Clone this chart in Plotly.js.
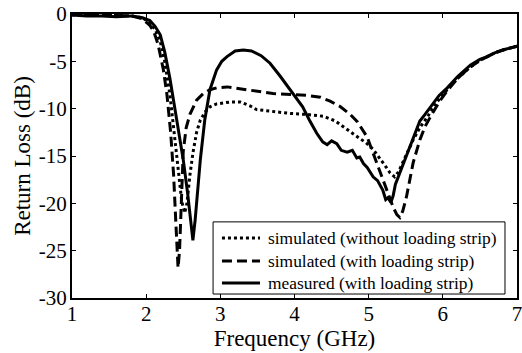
<!DOCTYPE html>
<html>
<head>
<meta charset="utf-8">
<script src="https://cdn.plot.ly/plotly-3.0.1.min.js"></script>
<style>
  html, body { margin: 0; padding: 0; background: #fff; }
  #chart { width: 522px; height: 353px; }
</style>
</head>
<body>
<div id="chart"></div>
<script>
// Frequency (GHz) and return loss (dB)
const freqWithout = [1.0, 1.5, 1.8, 1.95, 2.05, 2.12, 2.19, 2.25, 2.32, 2.38, 2.43, 2.48, 2.52, 2.55, 2.59, 2.63, 2.68, 2.73, 2.8, 2.86, 2.95, 3.04, 3.13, 3.27, 3.4, 3.49, 3.7, 3.94, 4.15, 4.39, 4.55, 4.66, 4.75, 4.85, 4.98, 5.06, 5.15, 5.22, 5.29, 5.35, 5.4, 5.46, 5.53, 5.6, 5.69, 5.79, 5.9, 6.0, 6.1, 6.2, 6.37, 6.5, 6.6, 6.7, 6.81, 6.9, 7.0];
const rlWithout = [-0.1, -0.1, -0.2, -0.4, -0.9, -1.6, -2.9, -5, -8.5, -12.5, -16.5, -19.8, -21, -20, -17, -14.7, -12.5, -11.2, -10.3, -9.8, -9.5, -9.4, -9.3, -9.3, -9.7, -10.1, -10.3, -10.5, -10.6, -10.8, -11.3, -11.9, -12.4, -12.9, -13.7, -14.3, -15.2, -16.0, -16.8, -17.2, -16.7, -15.7, -14.5, -13.3, -12.0, -10.9, -9.5, -8.5, -7.6, -6.8, -5.6, -4.9, -4.5, -4.1, -3.8, -3.6, -3.4];

const freqWith = [1.0, 1.5, 1.8, 1.95, 2.05, 2.1, 2.16, 2.23, 2.28, 2.33, 2.37, 2.4, 2.43, 2.45, 2.47, 2.5, 2.54, 2.59, 2.68, 2.77, 2.86, 2.95, 3.09, 3.27, 3.5, 3.71, 3.95, 4.17, 4.35, 4.48, 4.62, 4.75, 4.85, 4.92, 4.98, 5.06, 5.12, 5.19, 5.26, 5.33, 5.38, 5.42, 5.46, 5.51, 5.56, 5.6, 5.69, 5.76, 5.83, 5.95, 6.06, 6.2, 6.37, 6.5, 6.6, 6.7, 6.81, 6.9, 7.0];
const rlWith = [-0.05, -0.1, -0.2, -0.5, -1.2, -1.8, -3.2, -5.8, -8.5, -12.5, -17, -22, -26.8, -25, -20.5, -14.5, -12, -10.6, -9.1, -8.4, -8.0, -7.8, -7.7, -7.9, -8.2, -8.4, -8.5, -8.6, -8.8, -9.2, -9.8, -10.6, -11.4, -12.3, -13.0, -14.7, -16, -17.6, -19, -20.4, -21.2, -21.5, -20.8, -19.3, -17.3, -15.7, -13.3, -11.9, -10.9, -9.3, -8.1, -6.8, -5.6, -4.9, -4.5, -4.1, -3.8, -3.6, -3.4];

const freqMeasured = [1.0, 1.2, 1.4, 1.6, 1.8, 1.95, 2.05, 2.12, 2.19, 2.25, 2.32, 2.41, 2.5, 2.56, 2.6, 2.63, 2.66, 2.7, 2.73, 2.79, 2.86, 2.95, 3.02, 3.09, 3.2, 3.31, 3.42, 3.55, 3.67, 3.8, 3.94, 4.04, 4.11, 4.2, 4.3, 4.38, 4.44, 4.5, 4.57, 4.63, 4.71, 4.78, 4.84, 4.88, 4.93, 4.98, 5.06, 5.12, 5.19, 5.23, 5.26, 5.3, 5.33, 5.36, 5.42, 5.5, 5.56, 5.63, 5.69, 5.76, 5.83, 5.95, 6.06, 6.2, 6.37, 6.5, 6.6, 6.7, 6.81, 6.9, 7.0];
const rlMeasured = [-0.1, -0.2, -0.2, -0.3, -0.2, -0.4, -0.7, -1.3, -2.2, -4.0, -6.8, -11.0, -15.4, -19, -21.5, -23.9, -21.8, -18, -15.4, -11.2, -8.0, -5.9, -5.0, -4.5, -3.9, -3.8, -3.9, -4.4, -5.2, -6.5, -8.0, -9.0, -9.8, -11.2, -12.6, -13.5, -13.8, -13.4, -13.7, -14.4, -14.6, -14.4, -15.2, -15.1, -15.8, -16.2, -17.2, -17.6, -18.6, -19.6, -19.4, -19.9, -19.2, -18.0, -16.8, -15.2, -14, -12.6, -11.3, -10.6, -9.9, -8.6, -7.8, -6.6, -5.4, -4.8, -4.5, -4.1, -3.8, -3.6, -3.4];

const seriesNames = ["simulated (without loading strip)", "simulated (with loading strip)", "measured (with loading strip)"];
const xTickVals = [1, 2, 3, 4, 5, 6, 7];
const xTickText = ["1", "2", "3", "4", "5", "6", "7"];
const yTickVals = [0, -5, -10, -15, -20, -25, -30];
const yTickText = ["0", "-5", "-10", "-15", "-20", "-25", "-30"];

const serif = "'Liberation Serif', 'Times New Roman', serif";
const dashes = ["3px,3px", "10px,5px", "solid"];

const traces = [
  { x: freqWithout, y: rlWithout, name: seriesNames[0] },
  { x: freqWith, y: rlWith, name: seriesNames[1] },
  { x: freqMeasured, y: rlMeasured, name: seriesNames[2] }
].map((t, i) => Object.assign(t, {
  mode: "lines", showlegend: false,
  line: { color: "#000", width: 3, dash: dashes[i] }
}));

// Legend box (drawn in paper coordinates of the plot area)
const legBox = { x0: 0.317, x1: 0.973, y0: 0.014, y1: 0.268 };
const legRows = [0.211, 0.130, 0.053];
const legSample = [0.337, 0.4225];
const legTextX = 0.436;

const shapes = [{
  type: "rect", xref: "paper", yref: "paper",
  x0: legBox.x0, x1: legBox.x1, y0: legBox.y0, y1: legBox.y1,
  line: { color: "#000", width: 1 }, fillcolor: "#fff", layer: "above"
}];
const annotations = [];
seriesNames.forEach((name, i) => {
  shapes.push({
    type: "line", xref: "paper", yref: "paper",
    x0: legSample[0], x1: legSample[1], y0: legRows[i], y1: legRows[i],
    line: { color: "#000", width: 3, dash: dashes[i] }, layer: "above"
  });
  annotations.push({
    xref: "paper", yref: "paper", x: legTextX, y: legRows[i],
    xanchor: "left", yanchor: "middle", showarrow: false,
    text: name, font: { family: serif, size: 17.4, color: "#000" }
  });
});

const layout = {
  width: 522, height: 353,
  margin: { l: 72, r: 5, t: 14, b: 55 },
  paper_bgcolor: "#fff", plot_bgcolor: "#fff",
  font: { family: serif, color: "#000", size: 21 },
  showlegend: false,
  shapes: shapes,
  annotations: annotations,
  xaxis: {
    range: [1, 7], tickvals: xTickVals, ticktext: xTickText,
    showgrid: false, zeroline: false,
    showline: true, linecolor: "#000", linewidth: 2, mirror: "ticks",
    ticks: "inside", ticklen: 4, tickwidth: 1, tickcolor: "#000",
    tickfont: { family: serif, size: 21 }, ticklabeloverflow: "allow",
    ticklabelstandoff: -4,
    title: { text: "Frequency (GHz)", font: { family: serif, size: 23 }, standoff: 0 },
    automargin: false
  },
  yaxis: {
    range: [-30, 0], tickvals: yTickVals, ticktext: yTickText,
    showgrid: false, zeroline: false,
    showline: true, linecolor: "#000", linewidth: 2, mirror: "ticks",
    ticks: "inside", ticklen: 4, tickwidth: 1, tickcolor: "#000",
    tickfont: { family: serif, size: 21 }, ticklabeloverflow: "allow",
    ticklabelstandoff: -1,
    title: { text: "Return Loss (dB)", font: { family: serif, size: 23 }, standoff: 2 },
    automargin: false
  }
};

Plotly.newPlot("chart", traces, layout, { staticPlot: true, displayModeBar: false });
</script>
</body>
</html>
